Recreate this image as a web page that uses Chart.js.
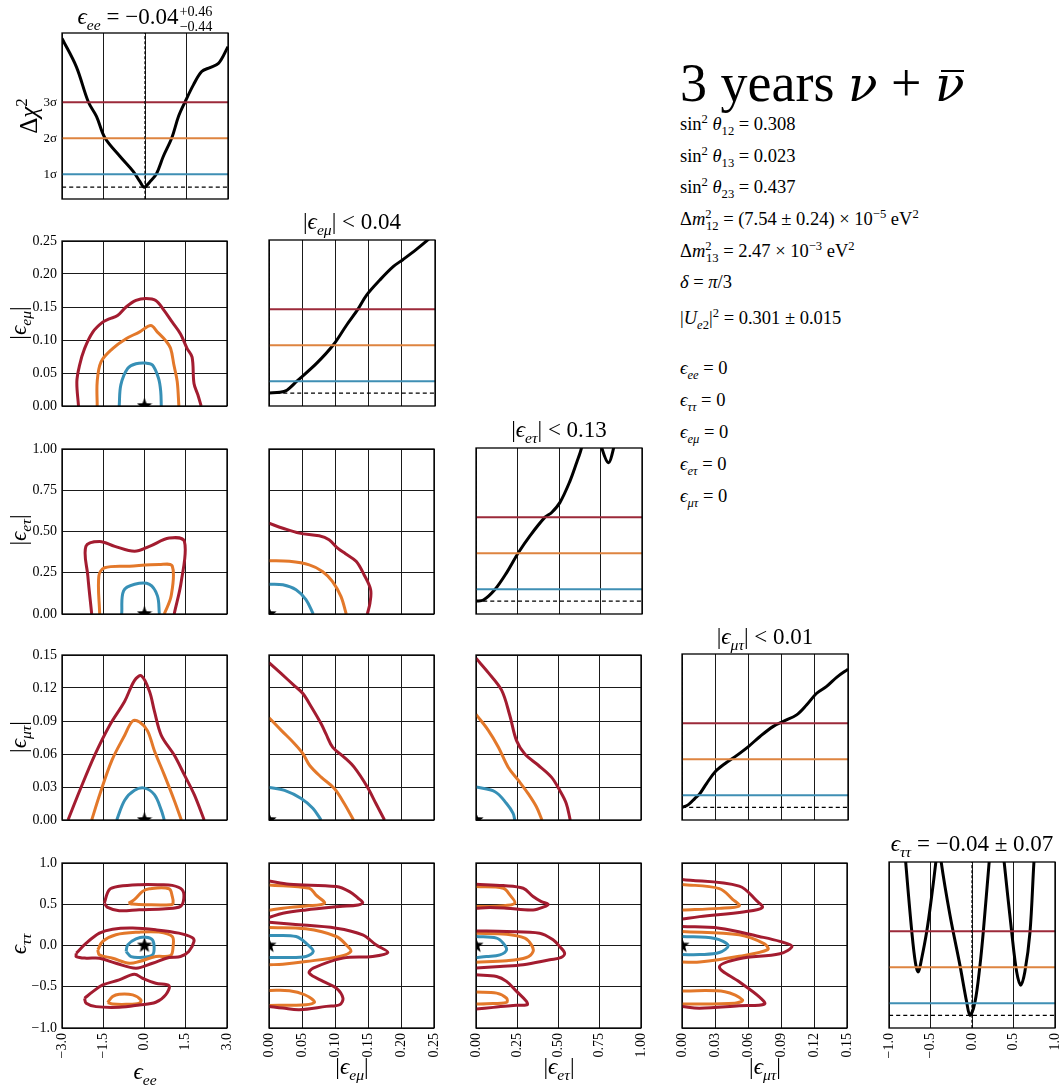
<!DOCTYPE html>
<html>
<head>
<meta charset="utf-8">
<script src="https://cdn.jsdelivr.net/npm/chart.js@4/dist/chart.umd.min.js"></script>
<style>
body { margin:0; background:#fff; width:1063px; height:1089px; position:relative; overflow:hidden;
       font-family:"Liberation Serif","DejaVu Serif",serif; color:#000; }
canvas { position:absolute; }
.lb { position:absolute; white-space:nowrap; line-height:1; }
.ct { transform:translateX(-50%); font-size:23px; }
.yl { transform:translate(-50%,-50%) rotate(-90deg); font-size:23px; }
.xl { transform:translateX(-50%); font-size:23px; }
.info { position:absolute; left:680px; font-size:18.5px; white-space:nowrap; line-height:1; }
sub, sup { font-size:0.68em; line-height:0; }
i { font-style:italic; }
.ss { display:inline-block; vertical-align:middle; font-size:0.62em; line-height:1.05; text-align:left; margin-left:1px; }
.ss span { display:block; }
.nu { font-family:"DejaVu Serif",serif; font-size:0.9em; }
.bar { position:relative; }
.bar::after { content:''; position:absolute; left:0.12em; right:0.02em; top:0.28em; border-top:2px solid #000; }
</style>
</head>
<body>

<script>
'use strict';
// ---------- data ----------
// tick values for each parameter
let eeTicks = [-3, -1.5, 0, 1.5, 3];
let emuTicks = [0, 0.05, 0.10, 0.15, 0.20, 0.25];
let etauTicks = [0, 0.25, 0.5, 0.75, 1.0];
let mutauTicks = [0, 0.03, 0.06, 0.09, 0.12, 0.15];
let tautauTicks = [-1, -0.5, 0, 0.5, 1];
let sigmaTicks = [1, 2, 3];
let sigmaLabels = ['1σ', '2σ', '3σ'];

// 1D profiles (value in sigma units on the diagonal axes)
let chiEE = [[-3,4.77],[-2.48,3.98],[-2.05,3.01],[-1.75,2.6],[-1.45,2.01],[-0.9,1.49],[-0.42,1.07],[-0.18,0.79],[-0.03,0.64],[0.18,0.79],[0.42,1.02],[0.66,1.49],[0.97,2.01],[1.21,2.6],[1.45,3.01],[1.75,3.48],[2.05,3.85],[2.35,3.96],[2.66,4.08],[3,4.54]];
let chiEMu = [[0,0.67],[0.0166,0.69],[0.027,0.75],[0.042,1.0],[0.072,1.5],[0.097,2.01],[0.117,2.56],[0.134,3.0],[0.147,3.39],[0.167,3.81],[0.187,4.18],[0.202,4.38],[0.222,4.66],[0.237,4.89],[0.25,5.1]];
let chiETau = [[0,0.67],[0.045,0.7],[0.114,0.99],[0.185,1.46],[0.255,2.01],[0.325,2.48],[0.416,3.0],[0.456,3.13],[0.506,3.41],[0.566,4.0],[0.606,4.51],[0.636,4.93],[0.66,5.6],[0.72,5.6],[0.757,4.93],[0.797,4.51],[0.827,4.88],[0.845,5.4]];
let chiMuTau = [[0,0.66],[0.0055,0.73],[0.0117,0.91],[0.0163,1.05],[0.0223,1.33],[0.03,1.65],[0.039,1.88],[0.048,2.07],[0.06,2.35],[0.0705,2.63],[0.0825,2.91],[0.0916,3.05],[0.1036,3.23],[0.1127,3.51],[0.1217,3.83],[0.1307,4.02],[0.14,4.28],[0.15,4.5]];
let chiTauTau = [[-0.82,5.6],[-0.80,4.95],[-0.725,2.98],[-0.68,2.1],[-0.647,1.87],[-0.61,2.2],[-0.546,2.98],[-0.49,3.9],[-0.434,4.95],[-0.41,5.5],[-0.39,5.5],[-0.373,4.95],[-0.265,3.44],[-0.145,2.05],[-0.064,1.03],[-0.024,0.66],[0.036,1.03],[0.096,2.05],[0.136,2.98],[0.208,4.95],[0.25,6],[0.34,6],[0.386,4.95],[0.478,2.98],[0.538,1.87],[0.587,1.5],[0.637,1.87],[0.699,2.98],[0.747,4.95],[0.77,5.6]];
let chiMin = [0.64, 0.67, 0.67, 0.66, 0.66];

// 2D contours: [x, y] points, red = 3σ, orange = 2σ, blue = 1σ
// ee vs emu
let eeEmu3 = [[-2.40,0],[-2.46,0.037],[-2.36,0.062],[-2.18,0.087],[-1.88,0.112],[-1.52,0.127],[-1.28,0.132],[-0.98,0.137],[-0.67,0.150],[-0.31,0.160],[0.05,0.163],[0.41,0.160],[0.71,0.145],[1.01,0.127],[1.31,0.109],[1.55,0.087],[1.73,0.074],[1.80,0.034],[1.94,0.017],[2.06,0]];
let eeEmu2 = [[-1.72,0],[-1.72,0.037],[-1.58,0.067],[-1.16,0.087],[-0.67,0.102],[-0.19,0.112],[0.23,0.122],[0.47,0.112],[0.77,0.099],[0.95,0.087],[1.07,0.062],[1.19,0.037],[1.25,0]];
let eeEmu1 = [[-0.92,0],[-0.86,0.032],[-0.61,0.057],[-0.31,0.064],[0.05,0.065],[0.29,0.062],[0.51,0.042],[0.59,0.022],[0.61,0]];
// ee vs etau
let eeEtau3 = [[-1.92,0],[-2.06,0.23],[-2.13,0.41],[-1.63,0.44],[-1.08,0.41],[-0.36,0.38],[0.18,0.41],[0.90,0.46],[1.45,0.44],[1.34,0.20],[1.08,0]];
let eeEtau2 = [[-1.63,0],[-1.66,0.23],[-1.45,0.28],[-0.54,0.29],[0.54,0.30],[1.01,0.29],[0.97,0.11],[0.72,0]];
let eeEtau1 = [[-0.83,0],[-0.76,0.14],[-0.36,0.18],[0.18,0.18],[0.47,0.11],[0.54,0]];
// ee vs mutau
let eeMutau3 = [[-2.78,0],[-2.35,0.027],[-1.81,0.059],[-1.27,0.086],[-0.72,0.108],[-0.36,0.127],[-0.11,0.131],[0.18,0.117],[0.36,0.099],[0.61,0.077],[1.08,0.059],[1.45,0.041],[1.81,0.023],[2.17,0]];
let eeMutau2 = [[-1.92,0],[-1.63,0.023],[-1.19,0.054],[-0.72,0.077],[-0.43,0.090],[-0.18,0.089],[0.11,0.081],[0.36,0.063],[0.72,0.041],[1.08,0.018],[1.34,0]];
let eeMutau1 = [[-1.01,0],[-0.72,0.018],[-0.36,0.027],[0,0.029],[0.36,0.023],[0.61,0.009],[0.72,0]];
// ee vs tautau (closed islands)
let eeTau3a = [[-1.46,0.514],[-1.28,0.676],[-0.92,0.717],[-0.19,0.737],[0.53,0.737],[1.01,0.729],[1.37,0.676],[1.43,0.575],[1.31,0.474],[0.77,0.445],[-0.19,0.433],[-0.92,0.421],[-1.34,0.462],[-1.46,0.514]];
let eeTau2a = [[-0.58,0.514],[-0.37,0.555],[-0.07,0.656],[0.17,0.688],[0.89,0.688],[1.01,0.595],[1.04,0.514],[0.95,0.494],[0.05,0.494],[-0.43,0.502],[-0.58,0.514]];
let eeTau3b = [[-2.48,-0.093],[-2.12,0.028],[-1.64,0.150],[-1.16,0.198],[-0.43,0.211],[0.41,0.190],[1.25,0.150],[1.73,0.097],[1.80,0.049],[1.61,-0.073],[1.31,-0.134],[0.89,-0.146],[0.29,-0.215],[-0.31,-0.275],[-1.04,-0.215],[-1.64,-0.154],[-2.12,-0.154],[-2.48,-0.134],[-2.48,-0.093]];
let eeTau2b = [[-1.70,-0.053],[-1.52,0.049],[-1.04,0.130],[-0.19,0.162],[0.53,0.162],[1.01,0.109],[1.04,-0.012],[0.95,-0.121],[0.41,-0.134],[-0.19,-0.194],[-0.55,-0.215],[-1.16,-0.154],[-1.64,-0.113],[-1.70,-0.053]];
let eeTau1 = [[-0.67,-0.073],[-0.61,0.008],[-0.31,0.081],[0.05,0.101],[0.29,0.069],[0.35,-0.032],[0.29,-0.113],[-0.07,-0.142],[-0.49,-0.134],[-0.67,-0.073]];
let eeTau3c = [[-2.18,-0.640],[-1.88,-0.559],[-1.52,-0.478],[-0.92,-0.417],[-0.37,-0.348],[-0.07,-0.397],[0.41,-0.457],[0.89,-0.486],[0.77,-0.599],[0.41,-0.688],[-0.19,-0.721],[-0.92,-0.749],[-1.76,-0.741],[-2.12,-0.700],[-2.18,-0.640]];
let eeTau2c = [[-1.34,-0.692],[-1.16,-0.619],[-0.92,-0.591],[-0.43,-0.599],[-0.13,-0.660],[-0.19,-0.700],[-0.67,-0.713],[-1.16,-0.709],[-1.34,-0.692]];
// emu vs etau
let emuEtau3 = [[0,0.550],[0.021,0.520],[0.046,0.490],[0.076,0.474],[0.091,0.450],[0.104,0.399],[0.116,0.365],[0.132,0.319],[0.144,0.238],[0.154,0.147],[0.153,0.067],[0.149,0]];
let emuEtau2 = [[0,0.323],[0.031,0.319],[0.061,0.298],[0.081,0.258],[0.096,0.198],[0.109,0.107],[0.117,0]];
let emuEtau1 = [[0,0.181],[0.021,0.177],[0.041,0.147],[0.056,0.087],[0.067,0]];
// emu vs mutau
let emuMutau3 = [[0,0.143],[0.0186,0.133],[0.0387,0.122],[0.0513,0.115],[0.064,0.103],[0.079,0.0875],[0.0865,0.078],[0.0966,0.066],[0.114,0.057],[0.129,0.048],[0.149,0.030],[0.162,0.015],[0.175,0]];
let emuMutau2 = [[0,0.093],[0.0186,0.0815],[0.0387,0.0694],[0.0513,0.0604],[0.0614,0.0498],[0.079,0.039],[0.099,0.0287],[0.114,0.015],[0.128,0]];
let emuMutau1 = [[0,0.0296],[0.0236,0.027],[0.0488,0.0196],[0.0664,0.0106],[0.079,0]];
// etau vs mutau
let etauMutau3 = [[0,0.147],[0.0744,0.134],[0.155,0.118],[0.205,0.095],[0.245,0.0724],[0.296,0.060],[0.376,0.050],[0.457,0.039],[0.507,0.027],[0.547,0.015],[0.571,0]];
let etauMutau2 = [[0,0.096],[0.0744,0.0815],[0.135,0.0664],[0.195,0.048],[0.256,0.0362],[0.316,0.024],[0.366,0.012],[0.40,0]];
let etauMutau1 = [[0,0.030],[0.115,0.0257],[0.185,0.015],[0.225,0.006],[0.235,0]];
// emu vs tautau
let emuTau3a = [[0,0.782],[0.031,0.742],[0.102,0.714],[0.122,0.653],[0.135,0.573],[0.142,0.520],[0.135,0.492],[0.107,0.472],[0.056,0.431],[0.021,0.391],[0,0.339]];
let emuTau2a = [[0,0.734],[0.061,0.694],[0.071,0.613],[0.084,0.512],[0.056,0.480],[0.021,0.452],[0,0.427]];
let emuTau3b = [[0,0.282],[0.036,0.258],[0.102,0.210],[0.142,0.129],[0.162,0.008],[0.180,-0.085],[0.157,-0.133],[0.112,-0.153],[0.067,-0.274],[0.061,-0.335],[0.082,-0.435],[0.102,-0.516],[0.112,-0.637],[0.107,-0.718],[0.087,-0.738],[0.046,-0.778],[0.021,-0.758],[0,-0.738]];
let emuTau2b = [[0,0.218],[0.056,0.202],[0.102,0.109],[0.117,0.008],[0.124,-0.073],[0.107,-0.133],[0.056,-0.194],[0.021,-0.226],[0,-0.234]];
let emuTau2c = [[0,-0.544],[0.031,-0.548],[0.054,-0.597],[0.069,-0.685],[0.056,-0.718],[0,-0.726]];
let emuTau1 = [[0,0.121],[0.041,0.109],[0.059,0.008],[0.067,-0.073],[0.056,-0.133],[0.021,-0.145],[0,-0.145]];
// etau vs tautau
let etauTau3a = [[0,0.742],[0.165,0.726],[0.286,0.694],[0.346,0.593],[0.396,0.532],[0.437,0.5],[0.416,0.472],[0.346,0.431],[0.185,0.452],[0.085,0.460],[0,0.452]];
let etauTau2a = [[0,0.714],[0.165,0.694],[0.205,0.613],[0.235,0.512],[0.145,0.480],[0,0.472]];
let etauTau3b = [[0,0.177],[0.185,0.169],[0.386,0.149],[0.467,0.069],[0.507,-0.012],[0.537,-0.093],[0.517,-0.145],[0.447,-0.173],[0.286,-0.234],[0.145,-0.254],[0,-0.274]];
let etauTau2b = [[0,0.149],[0.185,0.137],[0.296,0.089],[0.336,0.008],[0.346,-0.073],[0.306,-0.145],[0.185,-0.185],[0,-0.202]];
let etauTau1 = [[0,0.109],[0.125,0.089],[0.165,0.028],[0.185,-0.052],[0.145,-0.113],[0.064,-0.133],[0,-0.145]];
let etauTau3c = [[0,-0.355],[0.125,-0.375],[0.185,-0.435],[0.246,-0.556],[0.306,-0.677],[0.310,-0.718],[0.225,-0.726],[0.105,-0.750],[0,-0.770]];
let etauTau2c = [[0,-0.565],[0.125,-0.577],[0.185,-0.637],[0.185,-0.690],[0.064,-0.706],[0,-0.710]];
// mutau vs tautau
let mutauTau3a = [[0,0.80],[0.052,0.72],[0.068,0.54],[0.073,0.46],[0.057,0.41],[0.016,0.35],[0,0.32]];
let mutauTau2a = [[0,0.74],[0.034,0.69],[0.046,0.56],[0.052,0.48],[0.034,0.45],[0,0.43]];
let mutauTau3b = [[0,0.23],[0.034,0.21],[0.070,0.11],[0.089,0.05],[0.1,-0.01],[0.089,-0.10],[0.052,-0.16],[0.034,-0.26],[0.052,-0.44],[0.070,-0.62],[0.075,-0.71],[0.052,-0.73],[0.016,-0.76],[0,-0.74]];
let mutauTau2b = [[0,0.17],[0.052,0.13],[0.075,0.02],[0.078,-0.05],[0.052,-0.13],[0.016,-0.2],[0,-0.2]];
let mutauTau2c = [[0,-0.55],[0.039,-0.56],[0.055,-0.66],[0.048,-0.7],[0,-0.71]];
let mutauTau1 = [[0,0.11],[0.03,0.085],[0.042,0.0],[0.034,-0.085],[0.016,-0.11],[0,-0.11]];

let trueValue = [0, 0];

// ---------- style ----------
const RED = '#a31c30', ORANGE = '#e3782a', BLUE = '#3790b6';
const LRED = '#9c2a3a', LORANGE = '#de8440', LBLUE = '#3f8fb4';
const PLOT = 166, PL = 56, PT = 8, PR = 8, PB = 52;
const colLeft = [62, 269, 476, 682, 889];
const rowTop = [33, 240, 448, 654, 862];
const tickFont = { family: '"Liberation Serif","DejaVu Serif",serif', size: 14 };

let axes = [
  { min: -3, max: 3, ticks: eeTicks, dec: 1 },
  { min: 0, max: 0.25, ticks: emuTicks, dec: 2 },
  { min: 0, max: 1, ticks: etauTicks, dec: 2 },
  { min: 0, max: 0.15, ticks: mutauTicks, dec: 2 },
  { min: -1, max: 1, ticks: tautauTicks, dec: 1 }
];

function fmt(v, d) { return v.toFixed(d).replace('-', '\u2212'); }

function pts(arr) { return arr.map(p => ({ x: p[0], y: p[1] })); }

function curve(arr, color, width, dash) {
  return { data: pts(arr), borderColor: color, borderWidth: width, borderDash: dash || [],
           showLine: true, pointRadius: 0, fill: false, tension: 0.35 };
}

function starImage(r) {
  let c = document.createElement('canvas');
  c.width = c.height = 2 * r;
  let g = c.getContext('2d');
  g.beginPath();
  for (let i = 0; i < 10; i++) {
    let a = -Math.PI / 2 + i * Math.PI / 5;
    let rr = i % 2 ? r * 0.42 : r;
    g.lineTo(r + rr * Math.cos(a), r + rr * Math.sin(a));
  }
  g.closePath();
  g.fillStyle = '#000';
  g.fill();
  return c;
}
const star = starImage(8);

function starSet() {
  return { data: pts([trueValue]), pointStyle: star, pointRadius: 8, showLine: false };
}

const framePlugin = {
  id: 'frame',
  afterDraw(chart) {
    let a = chart.chartArea, g = chart.ctx;
    g.save();
    g.strokeStyle = '#000';
    g.lineWidth = 1.3;
    g.strokeRect(a.left, a.top, a.right - a.left, a.bottom - a.top);
    g.restore();
  }
};

function makePanel(row, col, datasets, diag) {
  let cv = document.createElement('canvas');
  cv.width = PL + PLOT + PR;
  cv.height = PT + PLOT + PB;
  cv.style.left = (colLeft[col] - PL) + 'px';
  cv.style.top = (rowTop[row] - PT) + 'px';
  document.body.appendChild(cv);

  let xa = axes[col];
  let ya = diag ? { min: 0.31, max: 4.92, ticks: sigmaTicks, dec: 0 } : axes[row];
  let showX = row === 4;
  let showY = col === 0;

  new Chart(cv.getContext('2d'), {
    type: 'scatter',
    data: { datasets: datasets },
    options: {
      responsive: false,
      animation: false,
      events: [],
      layout: { padding: { top: PT, right: PR, left: 0, bottom: 0 } },
      plugins: { legend: { display: false }, tooltip: { enabled: false } },
      scales: {
        x: {
          type: 'linear', min: xa.min, max: xa.max,
          afterBuildTicks: s => { s.ticks = xa.ticks.map(v => ({ value: v })); },
          afterFit: s => { s.height = PB; s.paddingLeft = 0; s.paddingRight = 0; },
          grid: { color: '#1a1a1a', lineWidth: 1, drawTicks: false },
          border: { display: false },
          ticks: { display: showX, minRotation: 90, maxRotation: 90, padding: 5, color: '#000', font: tickFont,
                   callback: v => fmt(v, xa.dec) }
        },
        y: {
          type: 'linear', min: ya.min, max: ya.max,
          afterBuildTicks: s => { s.ticks = ya.ticks.map(v => ({ value: v })); },
          afterFit: s => { s.width = PL; s.paddingTop = 0; s.paddingBottom = 0; },
          grid: { display: !diag, color: '#1a1a1a', lineWidth: 1, drawTicks: false },
          border: { display: false },
          ticks: { display: showY, padding: 5, color: '#000',
                   font: diag ? { family: tickFont.family, size: 13 } : tickFont,
                   callback: (v, i) => diag ? sigmaLabels[i] : fmt(v, ya.dec) }
        }
      }
    },
    plugins: [framePlugin]
  });
}

function diagSets(chi, k) {
  let a = axes[k];
  return [
    curve([[0, 0.31], [0, 4.92]], '#000', 1.2, [3, 2]),
    curve([[a.min, 3], [a.max, 3]], LRED, 2),
    curve([[a.min, 2], [a.max, 2]], LORANGE, 2),
    curve([[a.min, 1], [a.max, 1]], LBLUE, 2),
    curve([[a.min, chiMin[k]], [a.max, chiMin[k]]], '#000', 1.3, [4, 3]),
    curve(chi, '#000', 3)
  ];
}

function contours(reds, oranges, blues) {
  let s = [];
  reds.forEach(c => s.push(curve(c, RED, 3)));
  oranges.forEach(c => s.push(curve(c, ORANGE, 3)));
  blues.forEach(c => s.push(curve(c, BLUE, 3)));
  s.push(starSet());
  return s;
}

// diagonal
makePanel(0, 0, diagSets(chiEE, 0), true);
makePanel(1, 1, diagSets(chiEMu, 1), true);
makePanel(2, 2, diagSets(chiETau, 2), true);
makePanel(3, 3, diagSets(chiMuTau, 3), true);
makePanel(4, 4, diagSets(chiTauTau, 4), true);

// off-diagonal
makePanel(1, 0, contours([eeEmu3], [eeEmu2], [eeEmu1]));
makePanel(2, 0, contours([eeEtau3], [eeEtau2], [eeEtau1]));
makePanel(3, 0, contours([eeMutau3], [eeMutau2], [eeMutau1]));
makePanel(4, 0, contours([eeTau3a, eeTau3b, eeTau3c], [eeTau2a, eeTau2b, eeTau2c], [eeTau1]));
makePanel(2, 1, contours([emuEtau3], [emuEtau2], [emuEtau1]));
makePanel(3, 1, contours([emuMutau3], [emuMutau2], [emuMutau1]));
makePanel(4, 1, contours([emuTau3a, emuTau3b], [emuTau2a, emuTau2b, emuTau2c], [emuTau1]));
makePanel(3, 2, contours([etauMutau3], [etauMutau2], [etauMutau1]));
makePanel(4, 2, contours([etauTau3a, etauTau3b, etauTau3c], [etauTau2a, etauTau2b, etauTau2c], [etauTau1]));
makePanel(4, 3, contours([mutauTau3a, mutauTau3b], [mutauTau2a, mutauTau2b, mutauTau2c], [mutauTau1]));
</script>

<!-- diagonal titles -->
<div class="lb ct" style="left:145px;top:4px"><i>ϵ</i><sub><i>ee</i></sub> = −0.04<span class="ss"><span>+0.46</span><span>−0.44</span></span></div>
<div class="lb ct" style="left:352px;top:210px">|<i>ϵ</i><sub><i>eμ</i></sub>| &lt; 0.04</div>
<div class="lb ct" style="left:559px;top:418px">|<i>ϵ</i><sub><i>eτ</i></sub>| &lt; 0.13</div>
<div class="lb ct" style="left:765px;top:625px">|<i>ϵ</i><sub><i>μτ</i></sub>| &lt; 0.01</div>
<div class="lb ct" style="left:972px;top:832px"><i>ϵ</i><sub><i>ττ</i></sub> = −0.04 ± 0.07</div>

<!-- y axis labels -->
<div class="lb yl" style="left:28px;top:116px;font-size:25px">Δ<i>χ</i><sup>2</sup></div>
<div class="lb yl" style="left:18px;top:323px">|<i>ϵ</i><sub><i>eμ</i></sub>|</div>
<div class="lb yl" style="left:18px;top:530px">|<i>ϵ</i><sub><i>eτ</i></sub>|</div>
<div class="lb yl" style="left:18px;top:737px">|<i>ϵ</i><sub><i>μτ</i></sub>|</div>
<div class="lb yl" style="left:18px;top:944px"><i>ϵ</i><sub><i>ττ</i></sub></div>

<!-- x axis labels -->
<div class="lb xl" style="left:145px;top:1060px"><i>ϵ</i><sub><i>ee</i></sub></div>
<div class="lb xl" style="left:352px;top:1055px">|<i>ϵ</i><sub><i>eμ</i></sub>|</div>
<div class="lb xl" style="left:559px;top:1055px">|<i>ϵ</i><sub><i>eτ</i></sub>|</div>
<div class="lb xl" style="left:765px;top:1055px">|<i>ϵ</i><sub><i>μτ</i></sub>|</div>

<!-- parameter box -->
<div class="info" style="top:56px;font-size:54px;">3 years <i class="nu">ν</i> + <i class="nu bar">ν</i></div>
<div class="info" style="top:115px">sin<sup>2</sup> <i>θ</i><sub>12</sub> = 0.308</div>
<div class="info" style="top:147px">sin<sup>2</sup> <i>θ</i><sub>13</sub> = 0.023</div>
<div class="info" style="top:178px">sin<sup>2</sup> <i>θ</i><sub>23</sub> = 0.437</div>
<div class="info" style="top:210px">Δ<i>m</i><sup>2</sup><sub style="margin-left:-0.45em">12</sub> = (7.54 ± 0.24) × 10<sup>−5</sup> eV<sup>2</sup></div>
<div class="info" style="top:242px">Δ<i>m</i><sup>2</sup><sub style="margin-left:-0.45em">13</sub> = 2.47 × 10<sup>−3</sup> eV<sup>2</sup></div>
<div class="info" style="top:273px"><i>δ</i> = <i>π</i>/3</div>
<div class="info" style="top:309px">|<i>U</i><sub><i>e</i>2</sub>|<sup>2</sup> = 0.301 ± 0.015</div>
<div class="info" style="top:359px"><i>ϵ</i><sub><i>ee</i></sub> = 0</div>
<div class="info" style="top:391px"><i>ϵ</i><sub><i>ττ</i></sub> = 0</div>
<div class="info" style="top:423px"><i>ϵ</i><sub><i>eμ</i></sub> = 0</div>
<div class="info" style="top:455px"><i>ϵ</i><sub><i>eτ</i></sub> = 0</div>
<div class="info" style="top:487px"><i>ϵ</i><sub><i>μτ</i></sub> = 0</div>
</body>
</html>
